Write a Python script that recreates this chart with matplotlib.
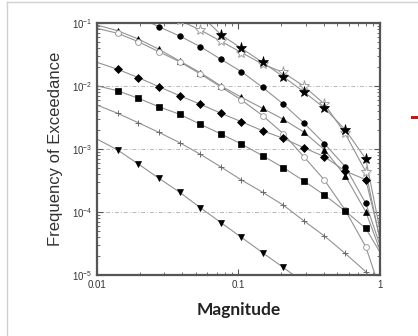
import matplotlib
matplotlib.use("Agg")
import matplotlib.pyplot as plt
from matplotlib.lines import Line2D
from matplotlib.patches import Rectangle
from matplotlib.ticker import LogLocator, NullFormatter, FixedLocator

# magnitude grid (first point has no marker, last point is the right edge)
mag = [0.01, 0.014, 0.0196, 0.0274, 0.0384, 0.0538, 0.0753, 0.105,
       0.148, 0.207, 0.289, 0.405, 0.567, 0.794, 1.0]

star_filled = [None, None, None, None, None, 0.135, 0.0652, 0.0396,
               0.0238, 0.0141, 0.00813, 0.00448, 0.00204, 0.000698, 5.2e-05]
star_open = [None, None, None, None, 0.110, 0.0774, 0.0513, 0.0340,
             0.0223, 0.0164, 0.0100, 0.00518, 0.00177, 0.000437, 3.6e-05]
circle_filled = [None, None, 0.124, 0.0873, 0.0622, 0.0421, 0.0265, 0.0169,
                 0.00953, 0.00518, 0.00261, 0.00122, 0.000527, 0.000137, 3.0e-05]
triangle = [0.0929, 0.0755, 0.0557, 0.0383, 0.0249, 0.0163, 0.0100, 0.00662,
            0.00443, 0.00297, 0.00186, 0.000975, 0.000379, 0.000101, 2.5e-05]
circle_open = [0.0824, 0.0687, 0.0505, 0.0350, 0.0243, 0.0155, 0.00964, 0.00600,
               0.00340, 0.00176, 0.000760, 0.000322, 0.000108, 2.8e-05, 6.0e-06]
diamond = [0.0238, 0.0184, 0.0136, 0.00975, 0.00702, 0.00514, 0.00369, 0.00271,
           0.00195, 0.00148, 0.00105, 0.000755, 0.000448, 0.000326, 3.9e-05]
square = [0.0101, 0.00841, 0.00638, 0.00469, 0.00356, 0.00247, 0.00173, 0.00120,
          0.000783, 0.000508, 0.000313, 0.000186, 0.000104, 5.5e-05, 2.3e-05]
plus = [0.00499, 0.00369, 0.00261, 0.00184, 0.00126, 0.000824, 0.000518, 0.000322,
        0.000206, 0.000129, 7.28e-05, 4.16e-05, 2.21e-05, 1.13e-05, 5.0e-06]
tri_down = [0.00144, 0.000964, 0.000578, 0.000343, 0.000206, 0.000117, 6.76e-05,
            3.96e-05, 2.26e-05, 1.32e-05, 7.6e-06, None, None, None, None]

y_ticks = [1e-5, 1e-4, 1e-3, 1e-2, 1e-1]
y_tick_labels = ["10$^{-5}$", "10$^{-4}$", "10$^{-3}$", "10$^{-2}$", "10$^{-1}$"]
x_ticks = [0.01, 0.1, 1]
x_tick_labels = ["0.01", "0.1", "1"]

LINE = "#929292"
plt.rcParams["mathtext.fontset"] = "custom"
plt.rcParams["mathtext.rm"] = "Liberation Sans"
plt.rcParams["mathtext.it"] = "Liberation Sans"


def draw(ax, ys, marker, size, face, edge, mew=0.5):
    pts = [(x, y) for x, y in zip(mag, ys) if y is not None]
    xs = [p[0] for p in pts]
    vs = [p[1] for p in pts]
    ax.plot(xs, vs, color=LINE, lw=0.8, zorder=2)
    # markers on the inner grid points only (not at 0.01 or 1)
    mk = [(x, y) for x, y in pts if 0.0105 < x < 0.95]
    ax.plot([p[0] for p in mk], [p[1] for p in mk], ls="none", marker=marker,
            ms=size, mfc=face, mec=edge, mew=mew, zorder=3)


fig = plt.figure(figsize=(4.18, 3.36), dpi=100)
ax = fig.add_axes([0.232, 0.1815, 0.677, 0.75])

draw(ax, star_open, "*", 8, "white", "#a0a0a0", 0.7)
draw(ax, star_filled, "*", 8, "black", "black")
draw(ax, circle_filled, "o", 4, "black", "black")
draw(ax, triangle, "^", 4, "black", "black")
draw(ax, circle_open, "o", 4.2, "white", "#a0a0a0", 0.7)
draw(ax, diamond, "D", 3.6, "black", "black")
draw(ax, square, "s", 3.8, "black", "black")
draw(ax, plus, "+", 4.5, "#6a6a6a", "#6a6a6a", 0.7)
draw(ax, tri_down, "v", 4, "black", "black")

ax.set_xscale("log")
ax.set_yscale("log")
ax.set_xlim(0.01, 1)
ax.set_ylim(1e-5, 1e-1)

for y in [1e-4, 1e-3, 1e-2]:
    ax.axhline(y, color="#b8b8b8", lw=0.7, ls=(0, (4, 2, 1, 2)), zorder=1)

ax.yaxis.set_major_locator(FixedLocator(y_ticks))
ax.set_yticklabels(y_tick_labels)
ax.xaxis.set_major_locator(FixedLocator(x_ticks))
ax.set_xticklabels(x_tick_labels)
ax.xaxis.set_minor_locator(LogLocator(base=10, subs=range(2, 10)))
ax.yaxis.set_minor_locator(LogLocator(base=10, subs=range(2, 10)))
ax.xaxis.set_minor_formatter(NullFormatter())
ax.yaxis.set_minor_formatter(NullFormatter())

ax.tick_params(which="both", direction="in", top=True, right=True,
               colors="#555555", labelcolor="#333333", labelsize=7)
ax.tick_params(which="major", length=4, width=0.8)
ax.tick_params(which="minor", length=2, width=0.6)
for lab in ax.get_xticklabels() + ax.get_yticklabels():
    lab.set_family("Liberation Sans")
for s in ax.spines.values():
    s.set_color("#555555")
    s.set_linewidth(1.6)

ax.set_ylabel("Frequency of Exceedance", family="Liberation Sans",
              fontsize=12, color="#333333", labelpad=6)
ax.set_xlabel("Magnitude", family="Lato", fontweight="bold",
              fontsize=12.5, color="#222222", labelpad=9)

# thin frame around the slide picture and the red mark at the edge
fig.add_artist(Line2D([7 / 418, 7 / 418], [0, 1 - 2 / 336], color="#d0d0d0", lw=1))
fig.add_artist(Line2D([7 / 418, 1], [1 - 2 / 336, 1 - 2 / 336], color="#d0d0d0", lw=1))
fig.add_artist(Rectangle((411 / 418, 1 - 119 / 336), 7 / 418, 3 / 336,
                         color="#cc1111", lw=0))

fig.savefig("out.png", dpi=100)
